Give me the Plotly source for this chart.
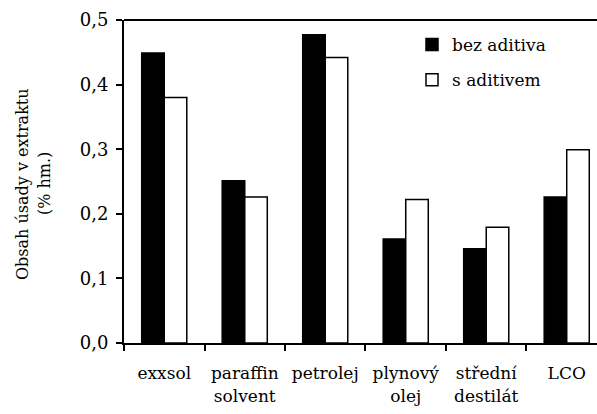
import plotly.graph_objects as go

categories = ["exxsol", "paraffin<br>solvent", "petrolej", "plynový<br>olej", "střední<br>destilát", "LCO"]
bez_aditiva = [0.449, 0.251, 0.477, 0.161, 0.146, 0.226]
s_aditivem = [0.380, 0.226, 0.442, 0.222, 0.179, 0.299]
y_title_lines = ["Obsah úsady v extraktu", "(% hm.)"]

FONT = "DejaVu Serif"

L, T, W, H = 124, 20, 473, 323  # plot area in px

fig = go.Figure()
fig.add_trace(go.Bar(x=categories, y=bez_aditiva, name="bez aditiva",
                     marker=dict(color="black", line=dict(color="black", width=1.5)),
                     legendgroup="a"))
fig.add_trace(go.Bar(x=categories, y=s_aditivem, name="s aditivem",
                     marker=dict(color="white", line=dict(color="black", width=1.5)),
                     legendgroup="b"))

annotations = []
for px, txt in zip([22, 44], y_title_lines):
    annotations.append(dict(text=txt, xref="paper", yref="paper",
                            x=(px - L) / W, y=(T + H - 184) / H,
                            xanchor="center", yanchor="middle", textangle=-90,
                            showarrow=False, font=dict(family=FONT, size=16)))

fig.update_layout(
    width=597, height=414,
    margin=dict(l=L, r=597 - L - W, t=T, b=414 - T - H, autoexpand=False),
    paper_bgcolor="white", plot_bgcolor="white",
    separators=", ",
    barmode="group", bargap=0.44, bargroupgap=0,
    font=dict(family=FONT, size=16, color="black"),
    showlegend=True,
    legend=dict(x=(412 - L) / W, y=1 - (27 - T) / H, xanchor="left", yanchor="top",
                bgcolor="rgba(0,0,0,0)", font=dict(family=FONT, size=17),
                tracegroupgap=10, itemwidth=30),
    xaxis=dict(range=[-0.5, 5.376], showline=True, linecolor="black", linewidth=2,
               ticks="outside", ticklen=6, tickwidth=2, tickcolor="black",
               tickson="boundaries", showgrid=False, zeroline=False,
               automargin=False, tickfont=dict(family=FONT, size=17),
               ticklabelstandoff=14),
    yaxis=dict(range=[0, 0.5], dtick=0.1, tickformat=".1f", showline=True,
               linecolor="black", linewidth=2, ticks="outside", ticklen=6,
               tickwidth=2, tickcolor="black", showgrid=False, zeroline=False,
               automargin=False, tickfont=dict(family=FONT, size=18),
               ticklabelstandoff=4),
    shapes=[dict(type="line", xref="paper", yref="paper", x0=0, x1=1, y0=1, y1=1,
                 line=dict(color="black", width=2))],
    annotations=annotations,
)

fig.write_html("out.html", config={"displayModeBar": False},
               post_script="document.body.style.margin='0px';")
